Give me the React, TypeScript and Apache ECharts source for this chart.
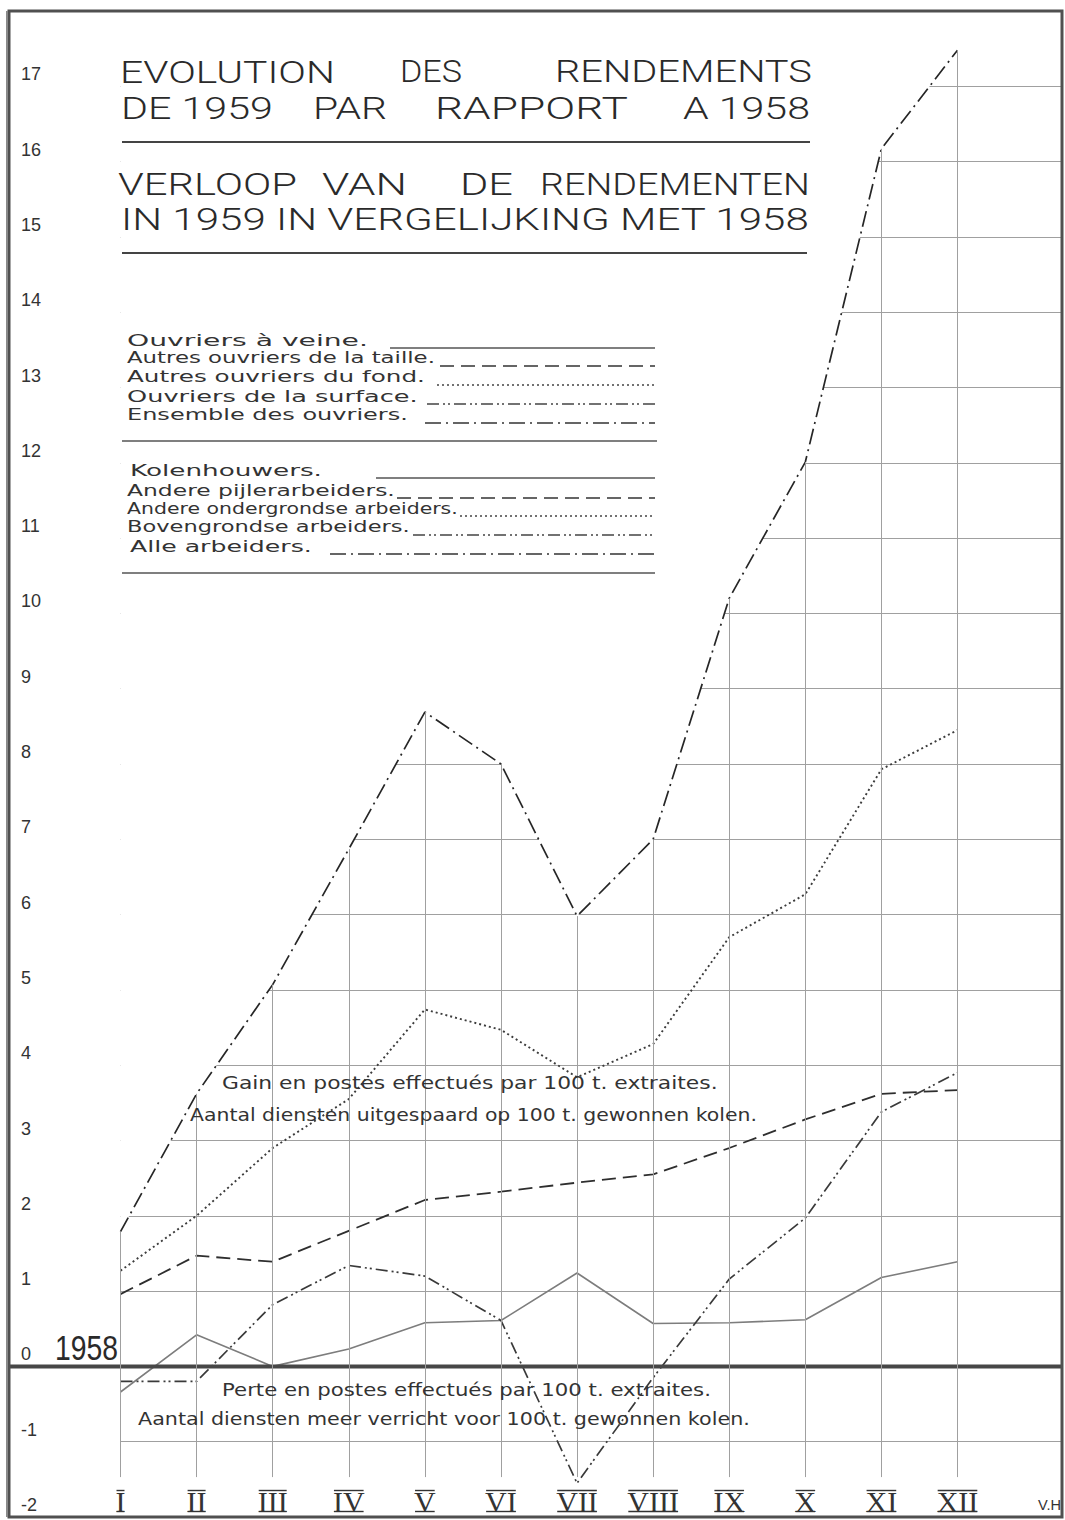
import React, { useEffect, useRef } from 'react';
import * as echarts from 'echarts';

// ---- data ----
const months = ['I', 'II', 'III', 'IV', 'V', 'VI', 'VII', 'VIII', 'IX', 'X', 'XI', 'XII'];
const veine = [-0.34, 0.42, 0.0, 0.23, 0.58, 0.61, 1.24, 0.57, 0.58, 0.62, 1.18, 1.39];
const taille = [0.96, 1.47, 1.39, 1.8, 2.21, 2.32, 2.44, 2.55, 2.9, 3.28, 3.62, 3.67];
const fond = [1.27, 2.0, 2.9, 3.55, 4.74, 4.47, 3.84, 4.28, 5.7, 6.27, 7.93, 8.45];
const surface = [-0.2, -0.2, 0.82, 1.34, 1.2, 0.61, -1.55, -0.15, 1.16, 1.97, 3.38, 3.9];
const ensemble = [1.79, 3.62, 5.07, 6.87, 8.69, 8.0, 5.98, 7.0, 10.2, 12.01, 16.17, 17.48];

const Y_MIN = -2;
const Y_MAX = 18;
const VERT_BOTTOM = -1.47;

const legendFR = [
  'Ouvriers à veine.',
  'Autres ouvriers de la taille.',
  'Autres ouvriers du fond.',
  'Ouvriers de la surface.',
  'Ensemble des ouvriers.',
];
const legendNL = [
  'Kolenhouwers.',
  'Andere pijlerarbeiders.',
  'Andere ondergrondse arbeiders.',
  'Bovengrondse arbeiders.',
  'Alle arbeiders.',
];

// ---- layout ----
const W = 1065;
const H = 1520;
const FRAME_L = 9;
const FRAME_T = 11;
const FRAME_R = 1062;
const FRAME_B = 1517;
const PLOT_L = 120.5;
const STEP = 76.09;
const X_MAX = (FRAME_R - PLOT_L) / STEP;

const DASH_TAILLE = [14, 7];
const DASH_FOND = [2, 3];
const DASH_SURF = [12, 4, 2, 3, 2, 4];
const DASH_ENS = [16, 5, 2, 5];

const seriesStyles = [
  { name: legendFR[0], data: veine, color: '#7d7d7d', type: 'solid' as any, width: 1.6 },
  { name: legendFR[1], data: taille, color: '#2e2e2e', type: DASH_TAILLE, width: 1.8 },
  { name: legendFR[2], data: fond, color: '#3c3c3c', type: DASH_FOND, width: 1.9 },
  { name: legendFR[3], data: surface, color: '#3a3a3a', type: DASH_SURF, width: 1.7 },
  { name: legendFR[4], data: ensemble, color: '#262626', type: DASH_ENS, width: 1.7 },
];

let ctx: CanvasRenderingContext2D | null = null;
function measure(text: string, font: string): number {
  if (!ctx) ctx = document.createElement('canvas').getContext('2d');
  ctx!.font = font;
  return ctx!.measureText(text).width;
}

function fitText(
  text: string,
  left: number,
  right: number,
  cy: number,
  size: number,
  family: string,
  weight: number | string,
  fill: string
) {
  const w = measure(text, `${weight} ${size}px ${family}`);
  const s = w > 0 ? (right - left) / w : 1;
  return {
    type: 'text',
    x: left,
    y: cy,
    scaleX: s,
    z: 100,
    silent: true,
    style: {
      text,
      fontSize: size,
      fontFamily: family,
      fontWeight: weight,
      fill,
      align: 'left',
      verticalAlign: 'middle',
    },
  };
}

function hLine(x1: number, x2: number, y: number, stroke: string, lw: number, dash?: number[]) {
  return {
    type: 'line',
    z: 100,
    silent: true,
    shape: { x1, y1: y, x2, y2: y },
    style: { stroke, lineWidth: lw, lineDash: dash },
  };
}

const TITLE_F = 'Roboto, "DejaVu Sans", sans-serif';
const TXT_F = '"DejaVu Sans", sans-serif';
const NUM_F = '"Liberation Sans", Arial, sans-serif';
const ROMAN_F = '"Liberation Serif", "DejaVu Serif", serif';

export default function App() {
  const ref = useRef<HTMLDivElement>(null);

  useEffect(() => {
    if (!ref.current) return;
    const chart = echarts.init(ref.current, undefined, { renderer: 'svg' });

    const pts = (arr: number[]) => arr.map((v, i) => [i, v]);

    const option: any = {
      animation: false,
      backgroundColor: '#ffffff',
      grid: [
        { left: PLOT_L, right: W - FRAME_R, top: FRAME_T, bottom: H - FRAME_B },
        { left: FRAME_L, right: W - FRAME_R, top: FRAME_T, bottom: H - FRAME_B },
      ],
      xAxis: [
        {
          gridIndex: 0,
          type: 'value',
          min: 0,
          max: X_MAX,
          interval: 1,
          axisLine: { show: false },
          axisTick: { show: false },
          splitLine: { show: false },
          axisLabel: {
            inside: true,
            margin: 16,
            verticalAlign: 'middle',
            showMaxLabel: false,
            fontFamily: ROMAN_F,
            fontSize: 30,
            color: '#333',
            formatter: (v: number) => (Number.isInteger(v) && months[v] ? months[v] : ''),
          },
        },
        { gridIndex: 1, type: 'value', min: 0, max: 1, show: false },
      ],
      yAxis: [
        {
          gridIndex: 0,
          type: 'value',
          min: Y_MIN,
          max: Y_MAX,
          interval: 1,
          axisLine: { show: false },
          axisTick: { show: false },
          axisLabel: { show: false },
          splitLine: { show: true, lineStyle: { color: '#a0a0a0', width: 1 } },
        },
        {
          gridIndex: 1,
          type: 'value',
          min: Y_MIN,
          max: Y_MAX,
          interval: 1,
          axisLine: { show: false },
          axisTick: { show: false },
          splitLine: { show: false },
          axisLabel: {
            inside: true,
            margin: 12,
            align: 'left',
            verticalAlign: 'bottom',
            padding: [0, 0, 3, 0],
            fontFamily: NUM_F,
            fontSize: 18,
            color: '#333',
            formatter: (v: number) => (v === Y_MAX ? '' : String(v)),
          },
        },
      ],
      series: [
        {
          type: 'line',
          xAxisIndex: 1,
          yAxisIndex: 1,
          data: [[0, 0], [1, 0]],
          symbol: 'none',
          silent: true,
          z: 4,
          lineStyle: { color: '#474747', width: 4 },
        },
        {
          type: 'line',
          xAxisIndex: 0,
          yAxisIndex: 0,
          data: pts(ensemble),
          symbol: 'none',
          silent: true,
          z: 1,
          lineStyle: { width: 0, opacity: 0 },
          areaStyle: { color: '#ffffff', opacity: 1, origin: 'end' },
          markLine: {
            silent: true,
            symbol: ['none', 'none'],
            label: { show: false },
            lineStyle: { color: '#a0a0a0', width: 1, type: 'solid' },
            data: ensemble.map((v, i) => [{ coord: [i, v] }, { coord: [i, VERT_BOTTOM] }]),
          },
        },
        ...seriesStyles.map((s) => ({
          name: s.name,
          type: 'line',
          xAxisIndex: 0,
          yAxisIndex: 0,
          data: pts(s.data),
          symbol: 'none',
          silent: true,
          z: 3,
          lineStyle: { color: s.color, width: s.width, type: s.type },
        })),
      ],
    };

    chart.setOption(option);

    // ---- decorations ----
    const g: any[] = [];
    // frame
    g.push({
      type: 'rect',
      z: 100,
      silent: true,
      shape: { x: FRAME_L, y: FRAME_T, width: FRAME_R - FRAME_L, height: FRAME_B - FRAME_T },
      style: { fill: 'none', stroke: '#505050', lineWidth: 3 },
    });
    g.push({
      type: 'line',
      z: 100,
      silent: true,
      shape: { x1: FRAME_L - 2, y1: FRAME_T, x2: FRAME_L - 2, y2: FRAME_B },
      style: { stroke: '#8a8a8a', lineWidth: 2 },
    });

    // titles
    const TC = '#2a2a2a';
    const TS = 31;
    const TW = 300;
    g.push(fitText('EVOLUTION', 120, 335, 72, TS, TITLE_F, TW, TC));
    g.push(fitText('DES', 400, 462, 72, TS, TITLE_F, TW, TC));
    g.push(fitText('RENDEMENTS', 555, 812, 72, TS, TITLE_F, TW, TC));
    g.push(fitText('DE 1959', 121, 273, 108, TS, TITLE_F, TW, TC));
    g.push(fitText('PAR', 313, 387, 108, TS, TITLE_F, TW, TC));
    g.push(fitText('RAPPORT', 435, 628, 108, TS, TITLE_F, TW, TC));
    g.push(fitText('A 1958', 683, 810, 108, TS, TITLE_F, TW, TC));
    g.push(hLine(122, 810, 142, '#444', 2));
    g.push(fitText('VERLOOP', 118, 297, 184, TS, TITLE_F, TW, TC));
    g.push(fitText('VAN', 322, 407, 184, TS, TITLE_F, TW, TC));
    g.push(fitText('DE', 460, 513, 184, TS, TITLE_F, TW, TC));
    g.push(fitText('RENDEMENTEN', 540, 810, 184, TS, TITLE_F, TW, TC));
    g.push(fitText('IN 1959 IN VERGELIJKING MET 1958', 121, 810, 220, TS, TITLE_F, TW, TC));
    g.push(hLine(122, 807, 253, '#444', 2));

    // legend
    const LC = '#333';
    const LS = 16;
    const frRows = [340, 358, 377, 396, 415];
    const frRight = [368, 435, 425, 418, 408];
    const frLineStart = [390, 440, 437, 427, 425];
    const nlRows = [470, 490, 508, 527, 546];
    const nlRight = [322, 395, 458, 410, 312];
    const nlLeft = [130, 127, 127, 127, 130];
    const nlLineStart = [376, 397, 460, 413, 330];
    const dashes: (number[] | undefined)[] = [undefined, DASH_TAILLE, DASH_FOND, DASH_SURF, DASH_ENS];
    const legendLineColors = ['#555', '#333', '#444', '#444', '#333'];
    legendFR.forEach((t, i) => {
      g.push(fitText(t, 127, frRight[i], frRows[i], LS, TXT_F, 'normal', LC));
      g.push(hLine(frLineStart[i], 655, frRows[i] + 8, legendLineColors[i], i === 2 ? 1.6 : 1.4, dashes[i]));
    });
    g.push(hLine(122, 657, 441, '#555', 1.6));
    legendNL.forEach((t, i) => {
      g.push(fitText(t, nlLeft[i], nlRight[i], nlRows[i], LS, TXT_F, 'normal', LC));
      g.push(hLine(nlLineStart[i], 655, nlRows[i] + 8, legendLineColors[i], i === 2 ? 1.6 : 1.4, dashes[i]));
    });
    g.push(hLine(122, 655, 573, '#555', 1.6));

    // annotations
    const AS = 18;
    g.push(fitText('Gain en postes effectués par 100 t. extraites.', 222, 718, 1083, AS, TXT_F, 'normal', LC));
    g.push(fitText('Aantal diensten uitgespaard op 100 t. gewonnen kolen.', 190, 757, 1115, AS, TXT_F, 'normal', LC));
    g.push(fitText('Perte en postes effectués par 100 t. extraites.', 222, 711, 1390, AS, TXT_F, 'normal', LC));
    g.push(fitText('Aantal diensten meer verricht voor 100 t. gewonnen kolen.', 138, 750, 1419, AS, TXT_F, 'normal', LC));

    // 1958 baseline label and signature
    const y0 = chart.convertToPixel({ yAxisIndex: 0 } as any, 0) as number;
    g.push(fitText('1958', 55, 118, y0 - 18, 35, NUM_F, 'normal', '#2a2a2a'));
    g.push(fitText('V.H', 1038, 1061, 1505, 14, NUM_F, 'normal', '#333'));

    // bars above and below the roman numerals
    const yBottom = chart.convertToPixel({ yAxisIndex: 0 } as any, Y_MIN) as number;
    const yc = yBottom - 16;
    months.forEach((m, i) => {
      const cx = chart.convertToPixel({ xAxisIndex: 0 } as any, i) as number;
      const w = measure(m, `30px ${ROMAN_F}`) - 2;
      g.push(hLine(cx - w / 2, cx + w / 2, yc - 10.5, '#333', 1.4));
      g.push(hLine(cx - w / 2, cx + w / 2, yc + 10.5, '#333', 1.4));
    });

    chart.setOption({ graphic: g });

    return () => {
      chart.dispose();
    };
  }, []);

  return (
    <div
      ref={ref}
      style={{ position: 'absolute', left: 0, top: 0, width: W, height: H, background: '#fff' }}
    />
  );
}
